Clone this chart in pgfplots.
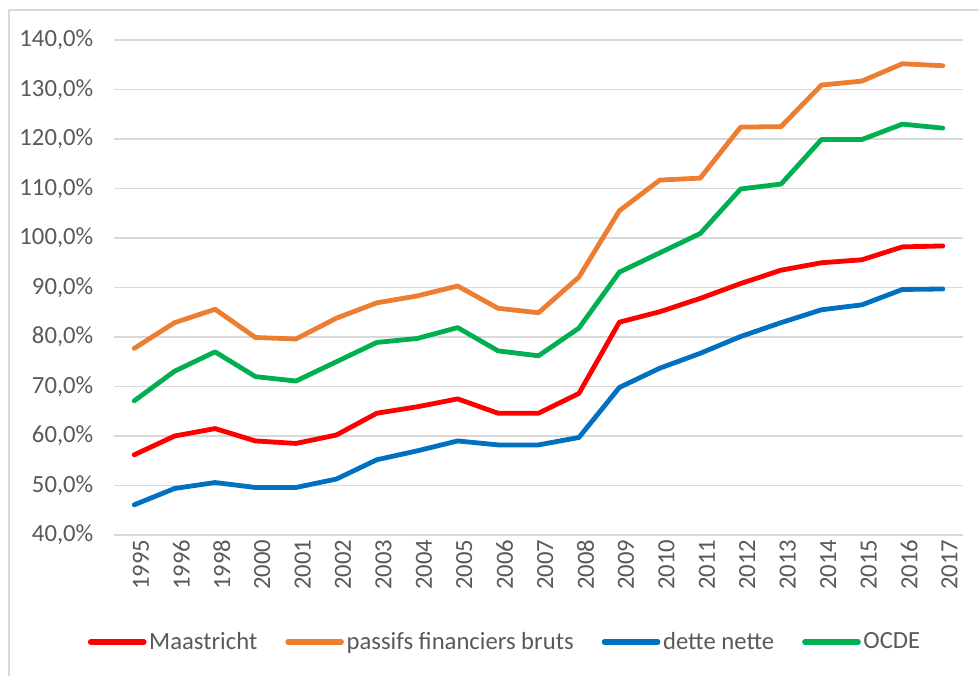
\documentclass[border=0pt]{standalone}
\usepackage{pgfplots}
\pgfplotsset{compat=1.18}
\usepackage{fontspec}
\setmainfont{Carlito}
\definecolor{cred}{HTML}{FF0000}
\definecolor{corange}{HTML}{ED7D31}
\definecolor{cblue}{HTML}{0070C0}
\definecolor{cgreen}{HTML}{00B050}
\definecolor{cgrid}{HTML}{D9D9D9}
\definecolor{ctext}{HTML}{595959}
\begin{document}
\begin{tikzpicture}
\path[use as bounding box] (0,0) rectangle (734.25pt,507pt);
\draw[cgrid, line width=1.2pt] (6.75pt,0) -- (6.75pt,499.5pt) -- (734.25pt,499.5pt);
\begin{axis}[
  at={(85.5pt,105.75pt)}, anchor=south west,
  scale only axis, width=636.75pt, height=371.25pt,
  xmin=-0.5, xmax=20.5, ymin=40, ymax=140,
  ytick={40,50,...,140},
  xtick={0,...,20},
  xticklabels={1995,1996,1998,2000,2001,2002,2003,2004,2005,2006,2007,2008,2009,2010,2011,2012,2013,2014,2015,2016,2017},
  /pgf/number format/assume math mode=true,
  yticklabel={\pgfmathprintnumber[fixed,fixed zerofill,precision=1,use comma]{\tick}\%},
  axis line style={draw=none},
  major tick length=0pt,
  ymajorgrids, grid style={cgrid, line width=1.1pt},
  tick label style={font=\fontsize{18.5}{22}\selectfont, text=ctext},
  yticklabel style={xshift=-12pt},
  xticklabel style={rotate=90, anchor=east, yshift=-5pt},
  legend columns=4,
  legend style={draw=none, fill=none, at={(0.461,-0.216)}, anchor=center,
    font=\fontsize{18.5}{22}\selectfont, text=ctext,
    /tikz/every odd column/.append style={column sep=0pt},
    /tikz/every even column/.append style={column sep=19pt}},
  legend image code/.code={\draw[#1, line width=4pt, line cap=round] (0pt,0pt) -- (40pt,0pt);},
  every axis plot/.append style={line width=3.6pt, line join=round, line cap=round, mark=none},
]
\addplot[cred] coordinates {(0,56.2)(1,60.0)(2,61.5)(3,59.0)(4,58.5)(5,60.2)(6,64.6)(7,65.9)(8,67.5)(9,64.6)(10,64.6)(11,68.6)(12,83.0)(13,85.1)(14,87.8)(15,90.8)(16,93.5)(17,95.0)(18,95.6)(19,98.2)(20,98.4)};
\addlegendentry{Maastricht}
\addplot[corange] coordinates {(0,77.7)(1,82.9)(2,85.6)(3,79.9)(4,79.6)(5,83.8)(6,86.9)(7,88.3)(8,90.3)(9,85.8)(10,84.9)(11,92.1)(12,105.5)(13,111.7)(14,112.1)(15,122.4)(16,122.5)(17,130.9)(18,131.7)(19,135.2)(20,134.8)};
\addlegendentry{passifs financiers bruts}
\addplot[cblue] coordinates {(0,46.1)(1,49.4)(2,50.6)(3,49.6)(4,49.6)(5,51.3)(6,55.2)(7,57.0)(8,59.0)(9,58.2)(10,58.2)(11,59.7)(12,69.8)(13,73.7)(14,76.7)(15,80.1)(16,82.9)(17,85.5)(18,86.5)(19,89.6)(20,89.7)};
\addlegendentry{dette nette}
\addplot[cgreen] coordinates {(0,67.1)(1,73.1)(2,77.0)(3,72.0)(4,71.1)(5,75.0)(6,78.9)(7,79.7)(8,81.9)(9,77.2)(10,76.2)(11,81.8)(12,93.1)(13,97.0)(14,100.9)(15,109.9)(16,110.9)(17,119.9)(18,119.9)(19,123.0)(20,122.2)};
\addlegendentry{OCDE}
\end{axis}
\end{tikzpicture}
\end{document}
